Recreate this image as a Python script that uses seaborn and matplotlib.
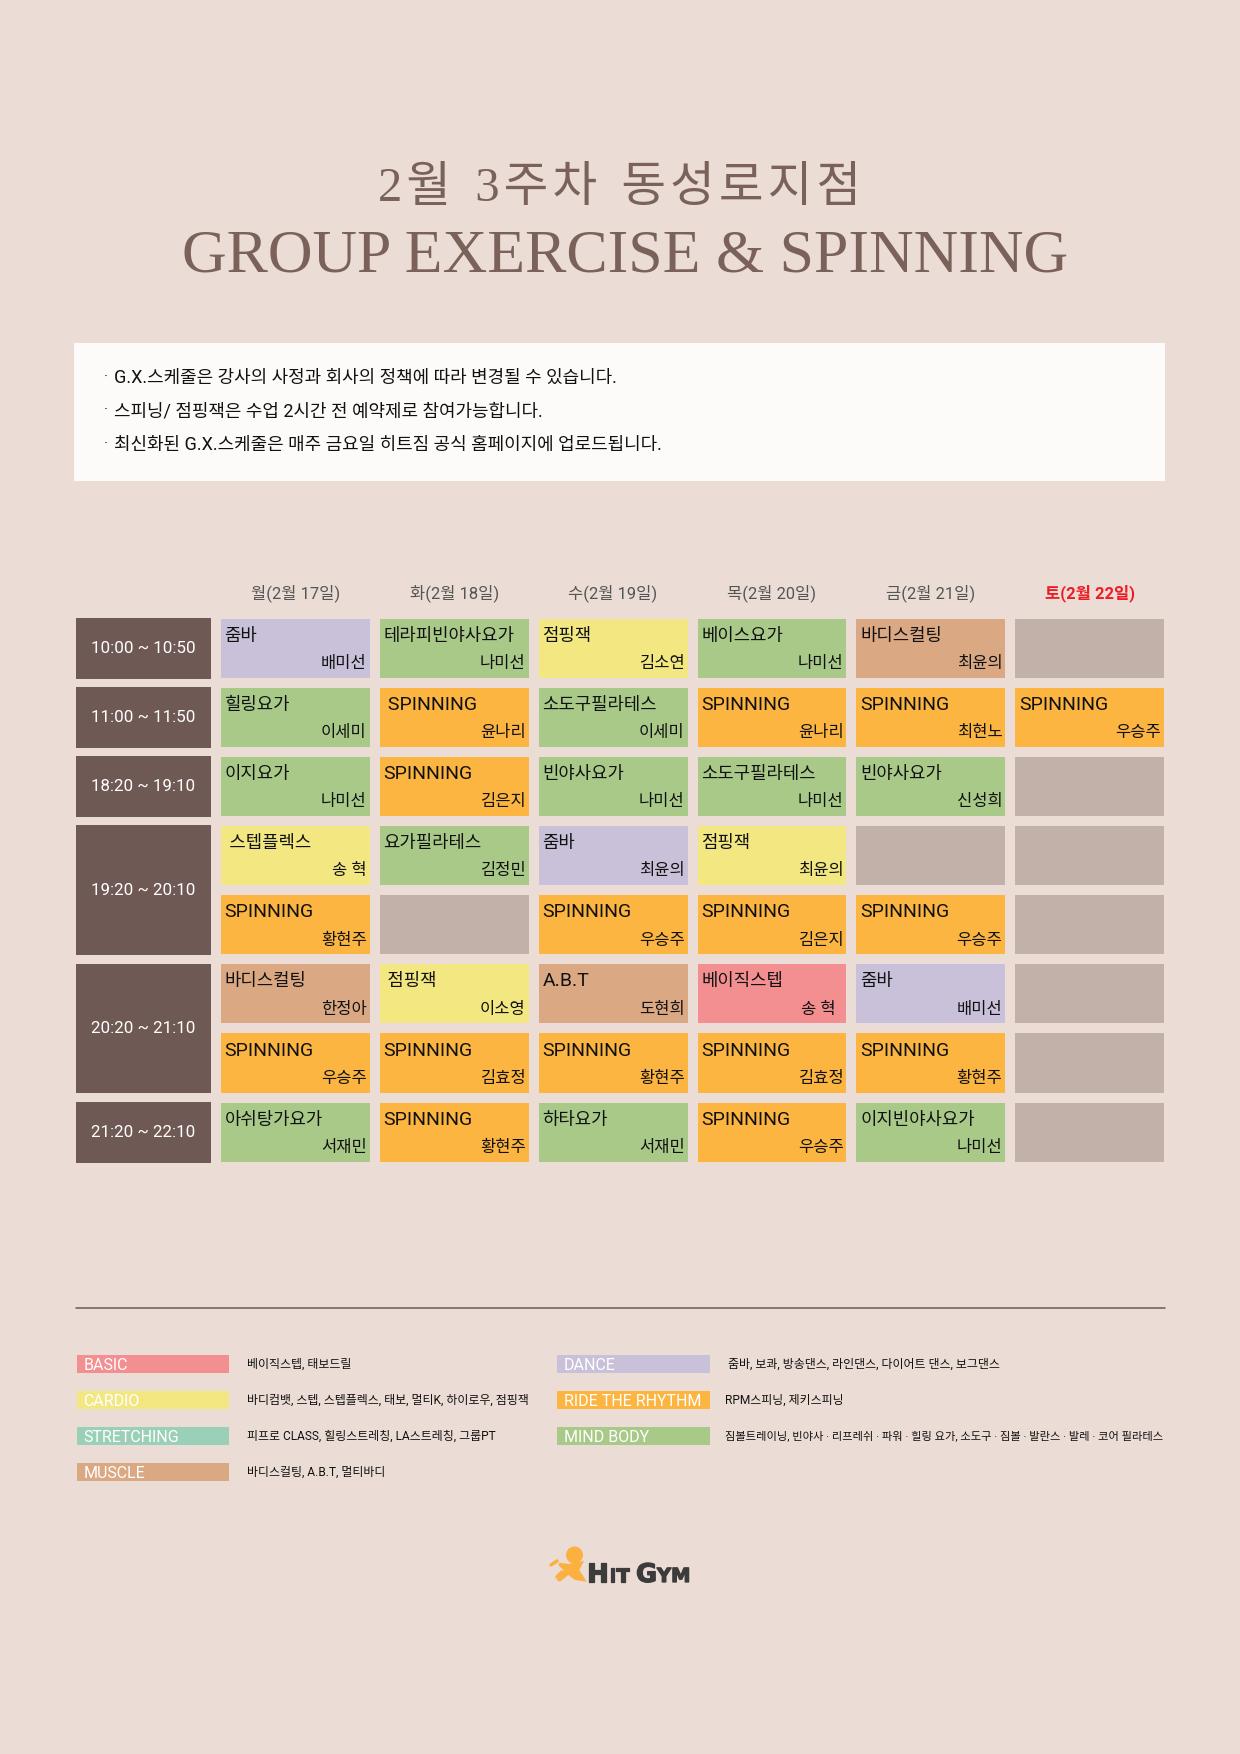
"""Weekly G.X. timetable poster, drawn with a seaborn heatmap and bar charts."""

import matplotlib.patheffects as pe
import matplotlib.pyplot as plt
import numpy as np
import pandas as pd
import seaborn as sns
from matplotlib.colors import ListedColormap
from matplotlib.patches import Circle, Polygon

WIDTH, HEIGHT = 1240, 1754

BG = "#EBDCD5"
BROWN = "#6F5955"
TITLE_COLOR = "#7A625B"
ORANGE = "#FBB040"

DAYS = ["월(2월 17일)", "화(2월 18일)", "수(2월 19일)", "목(2월 20일)", "금(2월 21일)", "토(2월 22일)"]

TIME_SLOTS = ["10:00 ~ 10:50", "11:00 ~ 11:50", "18:20 ~ 19:10",
              "19:20 ~ 20:10", "20:20 ~ 21:10", "21:20 ~ 22:10"]
TIME_SPANS = [1, 1, 1, 2, 2, 1]

CLASSES = [
    ["줌바", "테라피빈야사요가", "점핑잭", "베이스요가", "바디스컬팅", ""],
    ["힐링요가", " SPINNING", "소도구필라테스", "SPINNING", "SPINNING", "SPINNING"],
    ["이지요가", "SPINNING", "빈야사요가", "소도구필라테스", "빈야사요가", ""],
    [" 스텝플렉스", "요가필라테스", "줌바", "점핑잭", "", ""],
    ["SPINNING", "", "SPINNING", "SPINNING", "SPINNING", ""],
    ["바디스컬팅", " 점핑잭", "A.B.T", "베이직스텝", "줌바", ""],
    ["SPINNING", "SPINNING", "SPINNING", "SPINNING", "SPINNING", ""],
    ["아쉬탕가요가", "SPINNING", "하타요가", "SPINNING", "이지빈야사요가", ""],
]
TEACHERS = [
    ["배미선", "나미선", "김소연", "나미선", "최윤의", ""],
    ["이세미", "윤나리", "이세미", "윤나리", "최현노", "우승주"],
    ["나미선", "김은지", "나미선", "나미선", "신성희", ""],
    ["송 혁", "김정민", "최윤의", "최윤의", "", ""],
    ["황현주", "", "우승주", "김은지", "우승주", ""],
    ["한정아", "이소영", "도현희", "송 혁  ", "배미선", ""],
    ["우승주", "김효정", "황현주", "김효정", "황현주", ""],
    ["서재민", "황현주", "서재민", "우승주", "나미선", ""],
]
CELL_KINDS = [
    ["DANCE", "MIND", "CARDIO", "MIND", "MUSCLE", "NONE"],
    ["MIND", "RIDE", "MIND", "RIDE", "RIDE", "RIDE"],
    ["MIND", "RIDE", "MIND", "MIND", "MIND", "NONE"],
    ["CARDIO", "MIND", "DANCE", "CARDIO", "NONE", "NONE"],
    ["RIDE", "NONE", "RIDE", "RIDE", "RIDE", "NONE"],
    ["MUSCLE", "CARDIO", "MUSCLE", "BASIC", "DANCE", "NONE"],
    ["RIDE", "RIDE", "RIDE", "RIDE", "RIDE", "NONE"],
    ["MIND", "RIDE", "MIND", "RIDE", "MIND", "NONE"],
]
KIND_COLORS = {
    "BASIC": "#F48F91",
    "CARDIO": "#F3E782",
    "STRETCHING": "#9BD0B8",
    "MUSCLE": "#DAA882",
    "DANCE": "#C9C0D9",
    "RIDE": "#FBB540",
    "MIND": "#A9C989",
    "NONE": "#C2B1A9",
}

LEGEND_LEFT = ["BASIC", "CARDIO", "STRETCHING", "MUSCLE"]
LEGEND_LEFT_KINDS = ["BASIC", "CARDIO", "STRETCHING", "MUSCLE"]
LEGEND_LEFT_TEXT = [
    "베이직스텝, 태보드릴",
    "바디컴뱃, 스텝, 스텝플렉스, 태보, 멀티K, 하이로우, 점핑잭",
    "피프로 CLASS, 힐링스트레칭, LA스트레칭, 그룹PT",
    "바디스컬팅, A.B.T, 멀티바디",
]
LEGEND_RIGHT = ["DANCE", "RIDE THE RHYTHM", "MIND BODY"]
LEGEND_RIGHT_KINDS = ["DANCE", "RIDE", "MIND"]
LEGEND_RIGHT_TEXT = [
    " 줌바, 보콰, 방송댄스, 라인댄스, 다이어트 댄스, 보그댄스",
    "RPM스피닝, 제키스피닝",
    "짐볼트레이닝, 빈야사 · 리프레쉬 · 파워 · 힐링 요가, 소도구 · 짐볼 · 발란스 · 발레 · 코어 필라테스",
]

NOTICES = [
    "G.X.스케줄은 강사의 사정과 회사의 정책에 따라 변경될 수 있습니다.",
    "스피닝/ 점핑잭은 수업 2시간 전 예약제로 참여가능합니다.",
    "최신화된 G.X.스케줄은 매주 금요일 히트짐 공식 홈페이지에 업로드됩니다.",
]

TITLE_KO = "2\u200a월  3\u200a주\u200a차  동\u200a성\u200a로\u200a지\u200a점"
TITLE_EN = "GROUP EXERCISE & SPINNING"


def px_axes(fig, left, top, right, bottom):
    """Axes placed by pixel edges, y counted from the top of the poster."""
    return fig.add_axes([left / WIDTH, 1 - bottom / HEIGHT,
                         (right - left) / WIDTH, (bottom - top) / HEIGHT])


def draw_timetable(fig):
    gap = 8.4
    top, bottom = 618 - gap / 2, 1162.5 + gap / 2
    ax = px_axes(fig, 220 - gap / 2, top, 1165 + gap / 2, bottom)
    kinds = list(KIND_COLORS)
    codes = pd.DataFrame(CELL_KINDS).map(kinds.index)
    sns.heatmap(
        codes, ax=ax, cmap=ListedColormap(list(KIND_COLORS.values())),
        vmin=-0.5, vmax=len(kinds) - 0.5, cbar=False,
        linewidths=gap * 72 / 100, linecolor=BG,
        xticklabels=DAYS, yticklabels=False,
    )
    ax.xaxis.tick_top()
    ax.tick_params(axis="x", length=0, pad=8.5, labelsize=11.9, labelcolor="#555555", rotation=0)
    ax.get_xticklabels()[-1].set_color("#EE1C25")
    ax.get_xticklabels()[-1].set_fontweight("bold")

    for r, row in enumerate(CLASSES):
        for c, label in enumerate(row):
            # latin names run wider in the poster than the hangul beside them
            size = 14 if label.isascii() else 12.8
            ax.text(c + 0.055, r + 0.32, label, ha="left", va="center", fontsize=size, color="#111111")
            ax.text(c + 0.95, r + 0.72, TEACHERS[r][c], ha="right", va="center", fontsize=11.9, color="#111111")

    # the time column shares the row scale of the heatmap
    tax = px_axes(fig, 75.5, top, 211, bottom)
    spans = np.array(TIME_SPANS)
    starts = np.cumsum(spans) - spans
    centers = starts + spans / 2
    row_height = (bottom - top) / spans.sum()
    tax.barh(centers, 1, height=spans - gap / row_height, color=BROWN, edgecolor="none", linewidth=0)
    tax.set_xlim(0, 1)
    tax.set_ylim(spans.sum(), 0)
    tax.axis("off")
    for slot, y in zip(TIME_SLOTS, centers):
        tax.text(0.5, y, slot, ha="center", va="center", fontsize=12.2, color="white")


def draw_legend(fig, left, right, names, kinds, texts, text_x, text_size):
    pitch = 36
    top = 1346
    ax = px_axes(fig, left, top, right, top + pitch * len(names))
    sns.barplot(
        x=[1] * len(names), y=names, hue=names, ax=ax, width=0.5, legend=False,
        palette=[KIND_COLORS[k] for k in kinds], saturation=1, orient="h",
        edgecolor="none", linewidth=0,
    )
    ax.set_xlim(0, 1)
    ax.axis("off")
    for i, name in enumerate(names):
        ax.text(0.045, i + 0.055, name, ha="left", va="center", fontsize=11.5, color="white")
        ax.text((text_x - left) / (right - left), i, texts[i], ha="left", va="center",
                fontsize=text_size[i], color="#111111")


def draw_logo(ax):
    body = np.array([(58, 98), (85, 102), (120, 95), (132, 92), (118, 120), (140, 155),
                     (105, 150), (85, 135), (60, 155), (50, 150), (72, 122), (55, 105)])
    ax.add_patch(Polygon(body / 3 + (540, 1530), color=ORANGE, lw=0))
    ax.add_patch(Circle((574.5, 1555), 8.5, color=ORANGE, lw=0))
    ax.plot([551, 557], [1565, 1561], color=ORANGE, lw=2.5)
    ax.plot([557, 562], [1577, 1572], color=ORANGE, lw=2.5)
    dark = "#3C3C3C"
    heavy = [pe.withStroke(linewidth=0.9, foreground=dark)]
    for x, letter, size in [(587, "H", 18.5), (609, "IT", 14), (636, "G", 18.5), (657, "YM", 14)]:
        ax.text(x, 1582, letter, ha="left", va="baseline", fontsize=size, color=dark,
                family="DejaVu Sans", fontweight="bold", path_effects=heavy)


def main():
    sns.set_theme(style="white", rc={"figure.facecolor": BG, "axes.facecolor": BG})
    plt.rcParams["font.family"] = ["Roboto", "Noto Sans CJK KR", "DejaVu Sans"]

    fig = plt.figure(figsize=(WIDTH / 100, HEIGHT / 100), dpi=100)

    # pixel overlay for the poster furniture
    page = fig.add_axes([0, 0, 1, 1])
    page.set_xlim(0, WIDTH)
    page.set_ylim(HEIGHT, 0)
    page.axis("off")

    page.text(620, 189, TITLE_KO, ha="center", va="center", fontsize=35,
              color=TITLE_COLOR, family=["Liberation Serif", "Noto Sans CJK KR", "DejaVu Sans"])
    page.text(625, 257, TITLE_EN, ha="center", va="center", fontsize=44.6,
              color=TITLE_COLOR, family="Liberation Serif")

    page.fill_between([74, 1165], 343, 481, color="#FDFBF9", lw=0)
    for y, line in zip([378, 411, 445], NOTICES):
        page.text(104, y, "·", ha="left", va="center", fontsize=11, color="#222222")
        page.text(114, y, line, ha="left", va="center", fontsize=12.95, color="#111111")

    page.plot([76, 1165], [1307.5, 1307.5], color=BROWN, lw=1.1)
    draw_logo(page)

    draw_timetable(fig)
    draw_legend(fig, 76.5, 229.5, LEGEND_LEFT, LEGEND_LEFT_KINDS, LEGEND_LEFT_TEXT, 247.5,
                [8.6, 8.65, 8.6, 8.6])
    draw_legend(fig, 557, 710, LEGEND_RIGHT, LEGEND_RIGHT_KINDS, LEGEND_RIGHT_TEXT, 725,
                [8.6, 8.6, 8.1])

    fig.savefig("out.png", dpi=100, facecolor=BG)
    plt.close(fig)


if __name__ == "__main__":
    main()
